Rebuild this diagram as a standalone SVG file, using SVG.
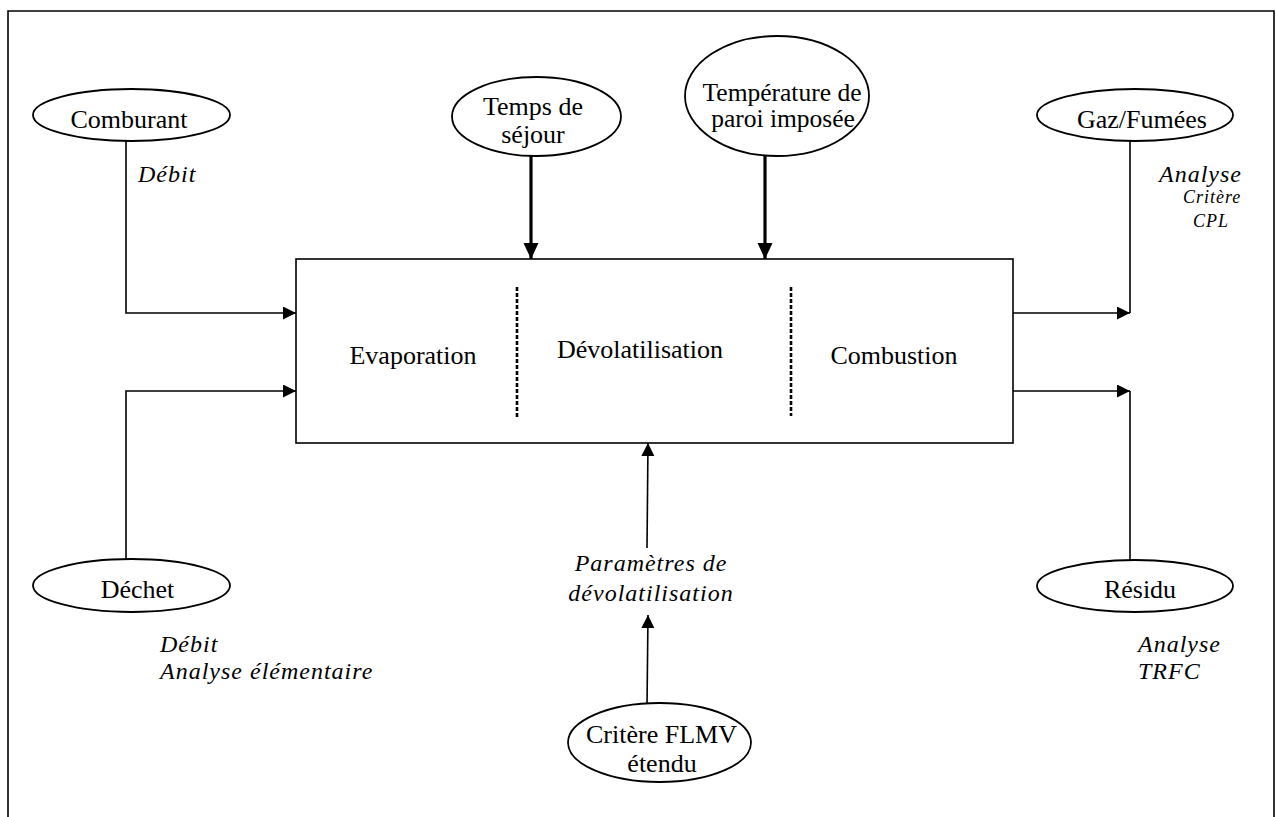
<svg xmlns="http://www.w3.org/2000/svg" width="1276" height="817" viewBox="0 0 1276 817">
  <style>
    .frame { fill: none; stroke: #000; stroke-width: 1.6; }
    .node ellipse { fill: #fff; stroke: #000; stroke-width: 1.8; }
    .node text, .stage { font-family: "Liberation Serif", "Times New Roman", serif; font-size: 26px; fill: #000; text-anchor: middle; }
    .node .tight { font-size: 25.5px; }
    .box { fill: #fff; stroke: #000; stroke-width: 1.6; }
    .link { fill: none; stroke: #000; stroke-width: 1.6; }
    .heavy { fill: none; stroke: #000; stroke-width: 3.2; }
    .divider { fill: none; stroke: #000; stroke-width: 2.6; stroke-dasharray: 4 2; }
    .note { font-family: "Liberation Serif", "Times New Roman", serif; font-style: italic; font-size: 24px; letter-spacing: 1px; fill: #000; }
    .note-sm { font-size: 18px; }
  </style>
  <defs>
    <marker id="tip" markerUnits="userSpaceOnUse" markerWidth="14" markerHeight="14" refX="13" refY="6.5" orient="auto">
      <path d="M0,0 L13,6.5 L0,13 Z" fill="#000"/>
    </marker>
    <marker id="tip-heavy" markerUnits="userSpaceOnUse" markerWidth="17" markerHeight="16" refX="16" refY="7.5" orient="auto">
      <path d="M0,0 L16,7.5 L0,15 Z" fill="#000"/>
    </marker>
  </defs>

  <!-- page frame, open at the bottom -->
  <path class="frame" d="M8,817 L8,11 L1274,11 L1274,817"/>

  <!-- furnace block with its three stages -->
  <g id="furnace">
    <rect class="box" x="296" y="259" width="717" height="184"/>
    <line class="divider" x1="517" y1="287" x2="517" y2="418"/>
    <line class="divider" x1="791" y1="287" x2="791" y2="416"/>
    <text class="stage" x="413" y="364">Evaporation</text>
    <text class="stage" x="640" y="358">Dévolatilisation</text>
    <text class="stage" x="894" y="364">Combustion</text>
  </g>

  <!-- connectors -->
  <g id="connectors">
    <polyline class="link" points="126,141 126,313 296,313" marker-end="url(#tip)"/>
    <polyline class="link" points="126,559 126,391 296,391" marker-end="url(#tip)"/>
    <line class="heavy" x1="531" y1="156" x2="531" y2="259" marker-end="url(#tip-heavy)"/>
    <line class="heavy" x1="765" y1="156" x2="765" y2="259" marker-end="url(#tip-heavy)"/>
    <polyline class="link" points="1013,313 1130,313" marker-end="url(#tip)"/>
    <line class="link" x1="1130" y1="141" x2="1130" y2="313"/>
    <polyline class="link" points="1013,391 1130,391" marker-end="url(#tip)"/>
    <line class="link" x1="1130" y1="560" x2="1130" y2="391"/>
    <line class="link" x1="647" y1="548" x2="648" y2="443" marker-end="url(#tip)"/>
    <line class="link" x1="647" y1="706" x2="648" y2="615" marker-end="url(#tip)"/>
  </g>

  <!-- input and output nodes -->
  <g id="comburant" class="node">
    <ellipse cx="131.5" cy="115" rx="98.5" ry="26"/>
    <text x="129" y="128">Comburant</text>
  </g>
  <g id="temps-sejour" class="node">
    <ellipse cx="536.5" cy="116.5" rx="84.5" ry="39.5"/>
    <text x="533" y="115">Temps de</text>
    <text x="533" y="143">séjour</text>
  </g>
  <g id="temperature-paroi" class="node">
    <ellipse cx="777" cy="96" rx="92" ry="60"/>
    <text class="tight" x="782" y="101">Température de</text>
    <text class="tight" x="783" y="127">paroi imposée</text>
  </g>
  <g id="gaz-fumees" class="node">
    <ellipse cx="1135" cy="115" rx="98" ry="26"/>
    <text x="1142" y="128">Gaz/Fumées</text>
  </g>
  <g id="dechet" class="node">
    <ellipse cx="131.5" cy="585.5" rx="98.5" ry="26.5"/>
    <text x="137.5" y="598">Déchet</text>
  </g>
  <g id="residu" class="node">
    <ellipse cx="1135" cy="586" rx="98" ry="26"/>
    <text x="1140" y="598">Résidu</text>
  </g>
  <g id="critere-flmv" class="node">
    <ellipse cx="659.5" cy="742.5" rx="91.5" ry="39.5"/>
    <text x="661.5" y="743">Critère FLMV</text>
    <text x="662" y="772">étendu</text>
  </g>

  <!-- measured quantities -->
  <g id="notes">
    <text class="note" x="138" y="182">Débit</text>
    <text class="note" x="160" y="652">Débit</text>
    <text class="note" x="160" y="679">Analyse élémentaire</text>
    <text class="note" x="1159" y="182">Analyse</text>
    <text class="note note-sm" x="1183" y="203">Critère</text>
    <text class="note note-sm" x="1193" y="227">CPL</text>
    <text class="note" x="1138" y="652">Analyse</text>
    <text class="note" x="1138" y="679">TRFC</text>
    <text class="note" x="651" y="571" text-anchor="middle">Paramètres de</text>
    <text class="note" x="651" y="601" text-anchor="middle">dévolatilisation</text>
  </g>
</svg>
